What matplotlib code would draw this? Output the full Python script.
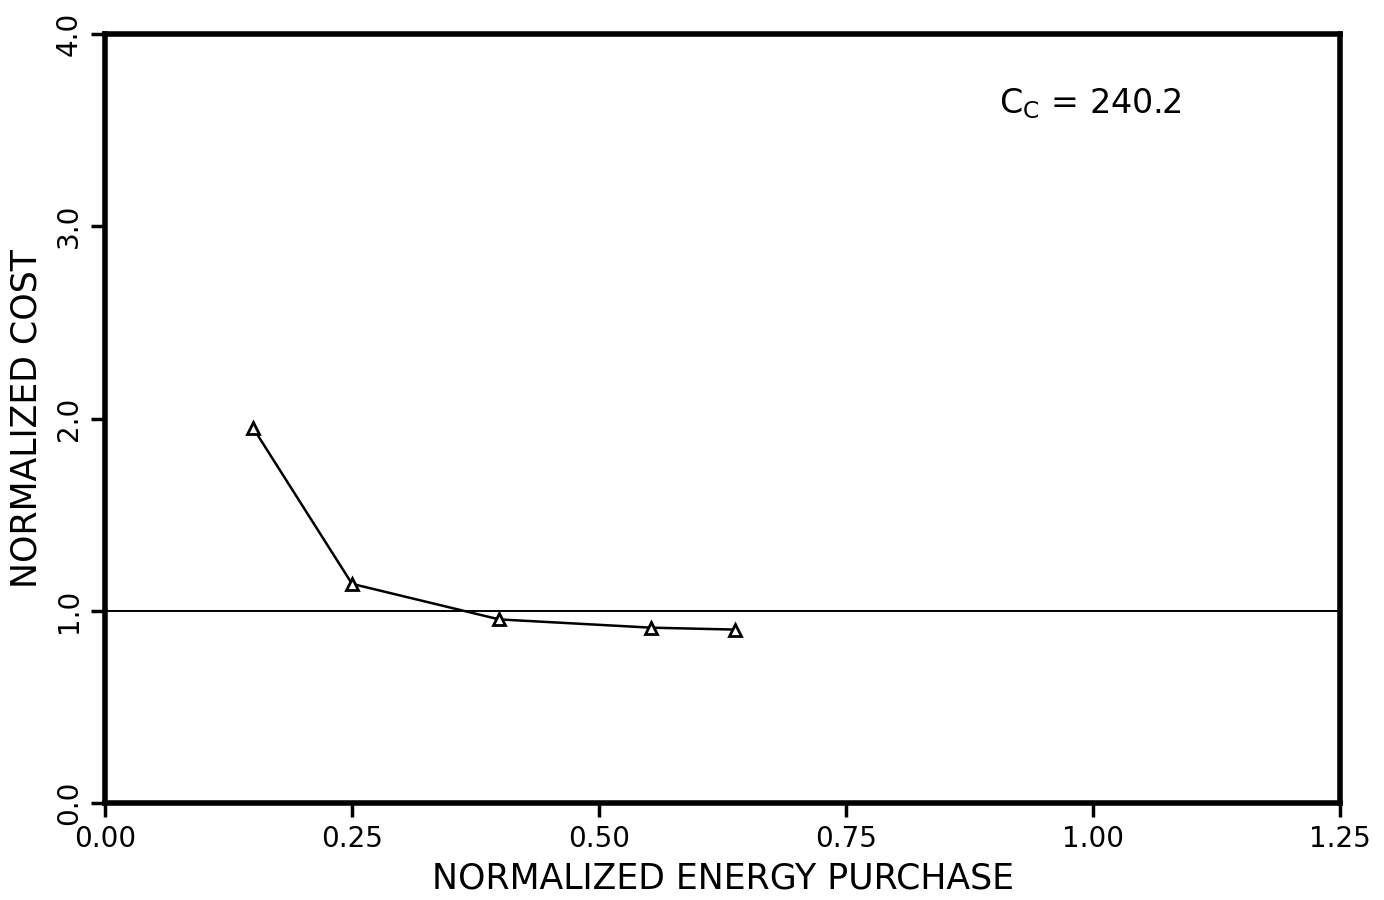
import matplotlib.pyplot as plt

# data
energy = [0.150, 0.250, 0.399, 0.553, 0.638]
cost = [1.95, 1.14, 0.955, 0.912, 0.902]

x_ticks = [0.0, 0.25, 0.50, 0.75, 1.00, 1.25]
x_labels = ["0.00", "0.25", "0.50", "0.75", "1.00", "1.25"]
y_ticks = [0.0, 1.0, 2.0, 3.0, 4.0]
y_labels = ["0.0", "1.0", "2.0", "3.0", "4.0"]

plt.rcParams['font.family'] = ['DejaVu Sans']

fig = plt.figure(figsize=(13.84, 9), dpi=100)
ax = fig.add_axes([105 / 1384, 97 / 900, 1235 / 1384, 769 / 900])

ax.axhline(1.0, color='black', lw=1.4)
ax.plot(energy, cost, color='black', lw=1.8, marker='^', ms=9,
        mfc='white', mec='black', mew=2)

ax.set_xlim(0, 1.25)
ax.set_ylim(0, 4)
ax.set_xticks(x_ticks)
ax.set_xticklabels(x_labels, fontsize=20)
ax.set_yticks(y_ticks)
ax.set_yticklabels(y_labels, fontsize=20, rotation=90, va='center')
ax.tick_params(direction='out', length=10, width=2.5, pad=6)

for s in ax.spines.values():
    s.set_linewidth(4)

ax.set_xlabel("NORMALIZED ENERGY PURCHASE", fontsize=25, labelpad=6)
ax.set_ylabel("NORMALIZED COST", fontsize=25, labelpad=8)

ax.text(0.905, 3.64, r"C$_\mathregular{C}$ = 240.2", fontsize=24, va='center')

fig.savefig("out.png", dpi=100)
